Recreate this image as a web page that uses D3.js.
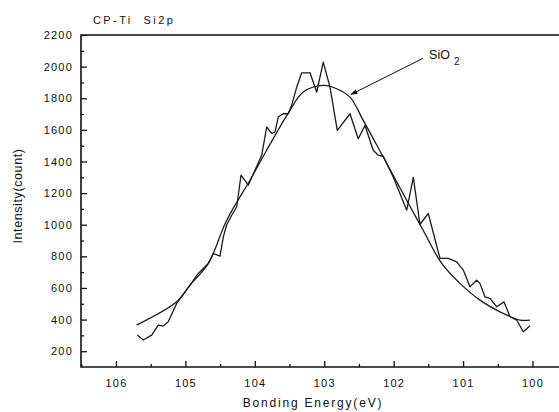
<!DOCTYPE html>
<html>
<head>
<meta charset="utf-8">
<script src="https://cdn.jsdelivr.net/npm/d3@7/dist/d3.min.js"></script>
<style>
  html, body { margin: 0; padding: 0; background: #fff; }
  text { font-family: "Liberation Sans", Arial, sans-serif; fill: #111; }
</style>
</head>
<body>
<svg id="chart" width="559" height="412"></svg>
<script>
// ---- data ----
const measuredEnergy = [105.693,105.607,105.486,105.391,105.319,105.247,105.126,104.934,104.814,104.670,104.598,104.502,104.454,104.405,104.333,104.261,104.199,104.142,104.094,103.901,103.829,103.757,103.710,103.662,103.590,103.518,103.469,103.397,103.325,103.205,103.109,103.014,102.917,102.812,102.629,102.510,102.413,102.294,102.222,102.149,102.006,101.812,101.717,101.621,101.501,101.333,101.213,101.092,100.997,100.901,100.804,100.757,100.685,100.613,100.516,100.411,100.324,100.228,100.133,100.036];
const measuredCounts = [302,271,302,365,359,386,502,618,692,755,818,801,923,1000,1060,1112,1313,1281,1250,1439,1618,1578,1586,1681,1702,1702,1755,1870,1961,1961,1839,2028,1870,1597,1702,1544,1628,1471,1439,1433,1302,1092,1300,1003,1071,787,787,765,713,607,649,629,544,534,481,512,418,397,323,361];

const fitEnergy = [105.702,105.126,104.934,104.670,104.405,104.070,103.829,103.494,103.302,103.014,102.821,102.629,102.438,102.150,101.812,101.575,101.308,101.045,100.757,100.468,100.180,100.036];
const fitCounts = [365,512,618,755,1028,1281,1471,1723,1839,1881,1860,1807,1660,1428,1155,965,755,629,523,449,397,397];

const xTicks = [106,105,104,103,102,101,100];
const xMinorTicks = [106.5,105.5,104.5,103.5,102.5,101.5,100.5];
const yTicks = [200,400,600,800,1000,1200,1400,1600,1800,2000,2200];
const yMinorTicks = [300,500,700,900,1100,1300,1500,1700,1900,2100];

const titleText = "CP-Ti  Si2p";
const xLabel = "Bonding Energy(eV)";
const yLabel = "Intensity(count)";
const annotationText = "SiO";
const annotationSub = "2";
const annotationAt = [101.49, 2048];      // label anchor (energy, counts)
const arrowFrom = [101.578, 2052];
const arrowTo = [102.615, 1824];

// ---- layout ----
const svg = d3.select("#chart");
const mLeft = 81, mRight = 559, mTop = 35, mBottom = 367;

const x = d3.scaleLinear().domain([106.504, 99.618]).range([mLeft, mRight]);
const y = d3.scaleLinear().domain([100, 2200]).range([mBottom, mTop]);

// axes
const xAxis = d3.axisBottom(x).tickValues(xTicks).tickSize(-6).tickPadding(12).tickFormat(d3.format("d"));
const xAxisMinor = d3.axisBottom(x).tickValues(xMinorTicks).tickSize(-3).tickFormat("");
const yAxis = d3.axisLeft(y).tickValues(yTicks).tickSize(-6).tickPadding(8).tickFormat(d3.format("d"));
const yAxisMinor = d3.axisLeft(y).tickValues(yMinorTicks).tickSize(-3).tickFormat("");

function styleAxis(g) {
  g.select(".domain").remove();
  g.selectAll(".tick line").attr("stroke", "#111").attr("stroke-width", 1.3);
  g.selectAll(".tick text").style("font-size", "11px").style("letter-spacing", "1.2px")
    .style("font-family", '"Liberation Sans", Arial, sans-serif').attr("fill", "#111");
}

svg.append("g").attr("transform", `translate(0,${mBottom})`).call(xAxis).call(styleAxis);
svg.append("g").attr("transform", `translate(0,${mBottom})`).call(xAxisMinor).call(styleAxis);
svg.append("g").attr("transform", `translate(${mLeft},0)`).call(yAxis).call(styleAxis);
svg.append("g").attr("transform", `translate(${mLeft},0)`).call(yAxisMinor).call(styleAxis);

// frame lines: left, bottom, top
svg.append("path")
  .attr("d", `M${mRight},${mTop}H${mLeft}V${mBottom}H${mRight}`)
  .attr("fill", "none").attr("stroke", "#111").attr("stroke-width", 1.6);

// curves
const measured = measuredEnergy.map((e, i) => [e, measuredCounts[i]]);
const fit = fitEnergy.map((e, i) => [e, fitCounts[i]]);

svg.append("path")
  .datum(fit)
  .attr("fill", "none").attr("stroke", "#1a1a1a").attr("stroke-width", 1.3)
  .attr("d", d3.line().x(d => x(d[0])).y(d => y(d[1])).curve(d3.curveCatmullRom.alpha(0.5)));

svg.append("path")
  .datum(measured)
  .attr("fill", "none").attr("stroke", "#1a1a1a").attr("stroke-width", 1.3)
  .attr("stroke-linejoin", "round")
  .attr("d", d3.line().x(d => x(d[0])).y(d => y(d[1])));

// annotation
svg.append("defs").append("marker")
  .attr("id", "arrow").attr("viewBox", "0 0 10 10").attr("refX", 9).attr("refY", 5)
  .attr("markerWidth", 7).attr("markerHeight", 7).attr("orient", "auto")
  .append("path").attr("d", "M0,1.5L10,5L0,8.5Z").attr("fill", "#111");

svg.append("line")
  .attr("x1", x(arrowFrom[0])).attr("y1", y(arrowFrom[1]))
  .attr("x2", x(arrowTo[0])).attr("y2", y(arrowTo[1]))
  .attr("stroke", "#111").attr("stroke-width", 1).attr("marker-end", "url(#arrow)");

const ann = svg.append("text")
  .attr("x", x(annotationAt[0])).attr("y", y(annotationAt[1]))
  .style("font-size", "12.5px");
ann.append("tspan").text(annotationText);
ann.append("tspan").attr("dx", 4).attr("dy", 6).style("font-size", "10px").text(annotationSub);

// titles
svg.append("text").attr("x", 93).attr("y", 24)
  .style("font-size", "11px").style("letter-spacing", "2.4px")
  .style("white-space", "pre").attr("xml:space", "preserve")
  .text(titleText);

svg.append("text").attr("x", (mLeft + 545) / 2).attr("y", 407)
  .attr("text-anchor", "middle")
  .style("font-size", "12px").style("letter-spacing", "1.8px")
  .text(xLabel);

svg.append("text")
  .attr("transform", `translate(22,196) rotate(-90)`)
  .attr("text-anchor", "middle")
  .style("font-size", "12.5px").style("letter-spacing", "0.6px")
  .text(yLabel);
</script>
</body>
</html>
